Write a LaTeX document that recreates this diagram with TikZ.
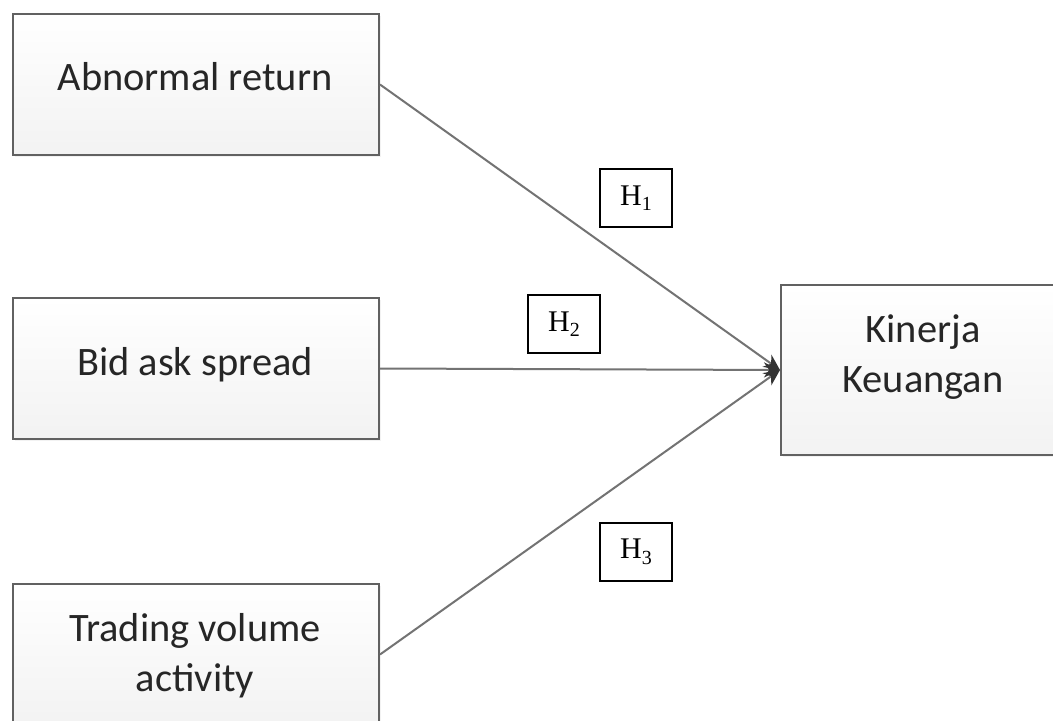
\documentclass[tikz,border=0pt]{standalone}
\usepackage{fontspec}
\setmainfont{Carlito}
\newfontfamily\timesf{Liberation Serif}
\usetikzlibrary{arrows.meta,shadows}
\begin{document}
\begin{tikzpicture}[x=0.5pt,y=-0.5pt,
  varbox/.style={draw=black!62, line width=1pt, top color=white, bottom color=black!5,
    minimum width=183pt, minimum height=70.5pt, inner sep=0pt, anchor=north west,
    drop shadow={opacity=0.1, shadow xshift=1pt, shadow yshift=-1pt}},
  vartext/.style={font=\fontsize{20.2}{25}\selectfont, align=center, inner sep=0pt, text=black!85},
  hyp/.style={draw=black, line width=1pt, fill=white, minimum width=36pt, minimum height=29pt,
    font=\timesf\fontsize{15}{17}\selectfont, anchor=north west, inner sep=0pt},
  link/.style={draw=black!55, line width=1pt, -{Stealth[length=8pt,width=7.5pt,color=black!80]}}]
\useasboundingbox (0,0) rectangle (1053,721);
\clip (0,0) rectangle (1053,721);
\fill[white] (0,0) rectangle (1053,721);
% boxes
\node[varbox] (a) at (12,13) {};
\node[varbox] (b) at (12,297) {};
\node[varbox] (c) at (12,583) {};
\node[varbox, minimum width=143pt, minimum height=85pt] (k) at (780,284) {};
% texts
\node[vartext] (at) at (195,77) {Abnormal return};
\node[vartext] (bt) at (195,365) {Bid ask spread};
\node[vartext] (ct) at (195,656) {Trading volume\\activity};
\node[vartext] (kt) at (923,357) {Kinerja\\Keuangan};
% connectors
\draw[link] (a.east) -- (k.west);
\draw[link] (b.east) -- (k.west);
\draw[link] (c.east) -- (k.west);
% hypothesis labels
\node[hyp] (h1) at (599,168) {H\raisebox{-0.4ex}{\fontsize{10}{11}\selectfont 1}};
\node[hyp] (h2) at (527,294) {H\raisebox{-0.4ex}{\fontsize{10}{11}\selectfont 2}};
\node[hyp] (h3) at (599,522) {H\raisebox{-0.4ex}{\fontsize{10}{11}\selectfont 3}};
\end{tikzpicture}
\end{document}
